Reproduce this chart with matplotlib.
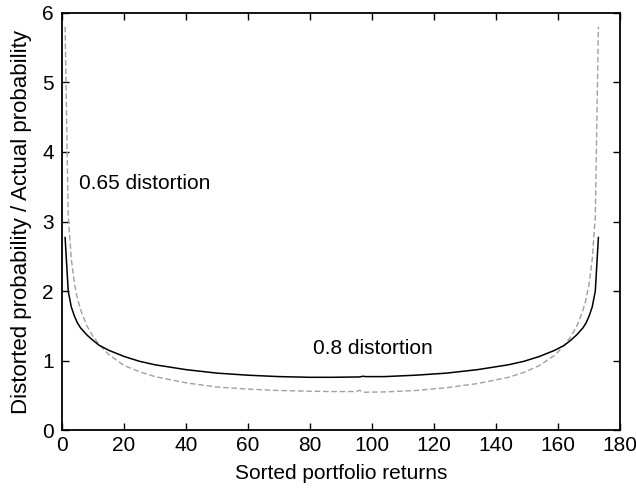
import matplotlib
matplotlib.use("Agg")
from matplotlib import pyplot as plt

plt.rcParams["font.family"] = ["Liberation Sans", "DejaVu Sans"]

# 0.8 distortion (solid black)
x_08 = [1, 2, 3, 4, 5, 6, 8, 10, 12, 15, 20, 25, 30, 40, 50, 60, 70, 80, 87,
        96, 97, 98, 104, 114, 124, 134, 144, 149, 154, 159, 162, 164, 166,
        168, 169, 170, 171, 172, 173]
y_08 = [2.77, 2.00, 1.77, 1.64, 1.54, 1.47, 1.37, 1.29, 1.22, 1.15, 1.06, 0.99,
        0.94, 0.87, 0.82, 0.79, 0.77, 0.76, 0.76, 0.765, 0.775, 0.77, 0.77,
        0.79, 0.82, 0.87, 0.94, 0.99, 1.06, 1.15, 1.22, 1.29, 1.37, 1.47,
        1.54, 1.64, 1.77, 2.00, 2.77]

# 0.65 distortion (dashed grey)
x_065 = [1, 2, 3, 4, 5, 6, 8, 10, 12, 15, 20, 25, 30, 40, 50, 60, 70, 80, 87,
         95, 96, 97, 104, 114, 124, 134, 144, 149, 154, 159, 162, 164, 166,
         168, 169, 170, 171, 172, 173]
y_065 = [5.80, 3.08, 2.46, 2.11, 1.89, 1.73, 1.50, 1.35, 1.23, 1.09, 0.93, 0.84,
         0.77, 0.68, 0.62, 0.59, 0.57, 0.56, 0.555, 0.555, 0.575, 0.545, 0.55,
         0.57, 0.61, 0.67, 0.76, 0.83, 0.93, 1.08, 1.22, 1.34, 1.49, 1.72,
         1.88, 2.10, 2.45, 3.07, 5.80]

x_ticks = [0, 20, 40, 60, 80, 100, 120, 140, 160, 180]
y_ticks = [0, 1, 2, 3, 4, 5, 6]

fig = plt.figure(figsize=(6.36, 4.95), dpi=100)
ax = fig.add_axes([0.0975, 0.131, 0.8775, 0.843])

ax.plot(x_065, y_065, color="#a0a0a0", linewidth=1.0, linestyle=(0, (4, 2)))
ax.plot(x_08, y_08, color="black", linewidth=1.1)

ax.text(5.6, 3.55, "0.65 distortion", fontsize=15, va="center", ha="left")
ax.text(81, 1.17, "0.8 distortion", fontsize=15, va="center", ha="left")

ax.set_xlim(0, 180)
ax.set_ylim(0, 6)
ax.set_xticks(x_ticks)
ax.set_yticks(y_ticks)
ax.tick_params(direction="in", top=True, right=True, length=5, width=1,
               labelsize=15)
ax.tick_params(axis="x", pad=4)
ax.tick_params(axis="y", pad=6)
for s in ax.spines.values():
    s.set_linewidth(1.3)

ax.set_xlabel("Sorted portfolio returns", fontsize=15, labelpad=7)
ax.set_ylabel("Distorted probability / Actual probability", fontsize=16,
              labelpad=7)

fig.savefig("out.png", dpi=100)
